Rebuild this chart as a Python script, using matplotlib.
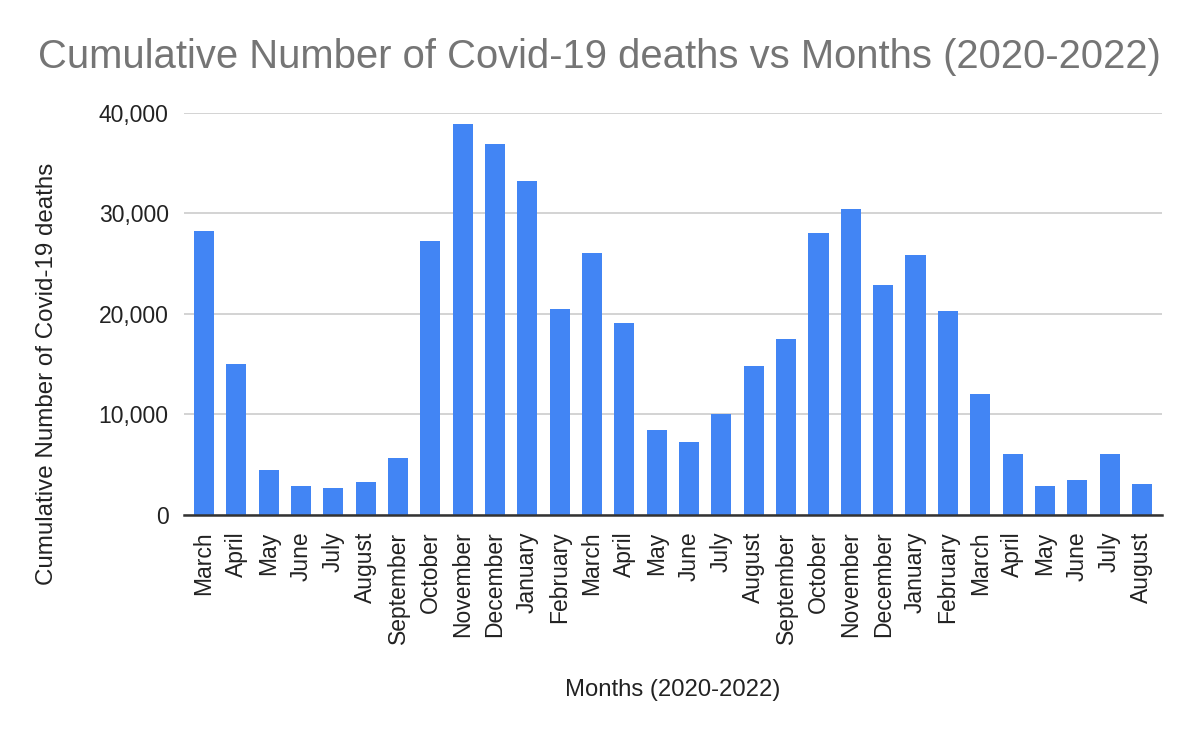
import matplotlib
matplotlib.use("Agg")
import matplotlib.pyplot as plt
from matplotlib.ticker import FuncFormatter

# Datos (marzo 2020 - agosto 2022)
meses = ["March", "April", "May", "June", "July", "August", "September",
         "October", "November", "December", "January", "February",
         "March", "April", "May", "June", "July", "August", "September",
         "October", "November", "December", "January", "February",
         "March", "April", "May", "June", "July", "August"]
muertes = [28240, 15040, 4440, 2840, 2640, 3240, 5640,
           27240, 38840, 36840, 33240, 20440,
           26040, 19040, 8440, 7240, 10040, 14840, 17440,
           28040, 30440, 22840, 25840, 20240,
           12040, 6040, 2840, 3440, 6040, 3040]
yticks = [0, 10000, 20000, 30000, 40000]

plt.rcParams["font.family"] = ["Liberation Sans", "DejaVu Sans"]

fig = plt.figure(figsize=(12, 7.42), dpi=100)
ax = fig.add_axes([0.1533, 0.3063, 0.815, 0.5418])

x = range(len(meses))
ax.bar(x, muertes, width=0.62, color="#4285F4", zorder=2)

ax.set_xlim(-0.62, len(meses) - 1 + 0.62)
ax.set_ylim(0, 40000)
ax.set_yticks(yticks)
ax.yaxis.set_major_formatter(FuncFormatter(lambda v, p: f"{int(v):,}"))
ax.set_xticks(list(x))
ax.set_xticklabels(meses, rotation=90, fontsize=16.5, color="#222222")
ax.tick_params(axis="y", labelsize=16.5, colors="#222222", length=0, pad=11)
ax.tick_params(axis="x", length=0, pad=12)

# Lineas de cuadricula y eje
ax.grid(axis="y", color="#cccccc", linewidth=1.2, zorder=0)
for s in ["top", "right", "left"]:
    ax.spines[s].set_visible(False)
ax.spines["bottom"].set_color("#333333")
ax.spines["bottom"].set_linewidth(1.8)
ax.spines["bottom"].set_zorder(3)

# Titulo y etiquetas
fig.text(0.4992, 0.923, "Cumulative Number of Covid-19 deaths vs Months (2020-2022)",
         ha="center", va="center", fontsize=28.8, color="#757575")
fig.text(0.5608, 1 - 690 / 742, "Months (2020-2022)", ha="center", va="center",
         fontsize=17.2, color="#222222")
fig.text(47 / 1200, 1 - 374 / 742, "Cumulative Number of Covid-19 deaths",
         ha="center", va="center", rotation=90, fontsize=17.4, color="#222222")

fig.savefig("out.png", dpi=100)
